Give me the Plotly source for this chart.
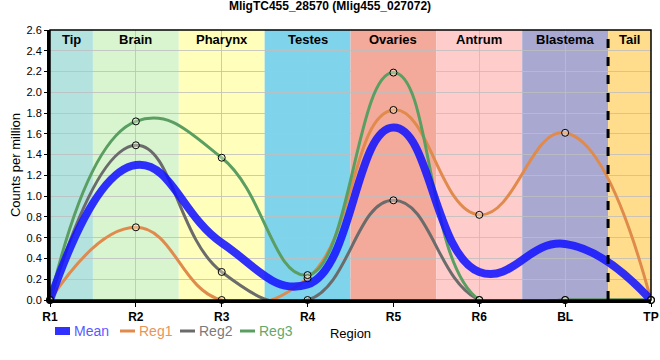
import plotly.graph_objects as go

title = "MligTC455_28570 (Mlig455_027072)"
regions = ["R1", "R2", "R3", "R4", "R5", "R6", "BL", "TP"]
reg1 = [0.0, 0.70, 0.0, 0.21, 1.83, 0.82, 1.61, 0.0]
reg2 = [0.0, 1.49, 0.27, 0.0, 0.96, 0.0, 0.0, 0.0]
reg3 = [0.0, 1.72, 1.37, 0.24, 2.19, 0.0, 0.0, 0.0]
mean = [0.0, 1.30, 0.55, 0.15, 1.66, 0.27, 0.54, 0.0]

band_names = ["Tip", "Brain", "Pharynx", "Testes", "Ovaries", "Antrum", "Blastema", "Tail"]
band_edges = [0, 0.5, 1.5, 2.5, 3.5, 4.5, 5.5, 6.5, 7]
band_colors = ["#b4e2de", "#d8f5d0", "#ffffbb", "#7fd4ec", "#f4aa9b", "#ffcccc", "#a9a8d0", "#ffdd8c"]
tail_split = 6.5

series_names = ["Mean", "Reg1", "Reg2", "Reg3"]
colors = {"Mean": "rgba(20,20,255,0.88)", "Reg1": "#e08a4c", "Reg2": "#6b6b6b", "Reg3": "#5a9e62"}
text_colors = {"Mean": "#5a5aff", "Reg1": "#e8955a", "Reg2": "#7a7a7a", "Reg3": "#64a86a"}
widths = {"Mean": 8, "Reg1": 3, "Reg2": 3, "Reg3": 3}

xs = list(range(len(regions)))

fig = go.Figure()
SM = 1.3
for name, ys in [("Reg1", reg1), ("Reg2", reg2), ("Reg3", reg3), ("Mean", mean)]:
    fig.add_trace(go.Scatter(
        x=xs, y=ys, mode="lines", showlegend=False,
        line=dict(color=colors[name], width=widths[name], shape="spline", smoothing=SM),
    ))
for ys in (reg1, reg2, reg3):
    fig.add_trace(go.Scatter(
        x=xs, y=ys, mode="markers", showlegend=False, cliponaxis=False,
        marker=dict(symbol="circle", size=7, color="rgba(255,255,235,0.35)", line=dict(color="black", width=1)),
    ))

shapes = []
annotations = []
for i, nm in enumerate(band_names):
    x0, x1 = band_edges[i], band_edges[i + 1]
    shapes.append(dict(type="rect", xref="x", yref="paper", x0=x0, x1=x1, y0=0, y1=1,
                       fillcolor=band_colors[i], line=dict(width=0), layer="below"))
    annotations.append(dict(x=(x0 + x1) / 2, y=1, xref="x", yref="paper", text=f"<b>{nm}</b>",
                            showarrow=False, yanchor="top", yshift=0,
                            font=dict(size=13, color="black", family="Liberation Sans")))
shapes.append(dict(type="line", xref="x", yref="paper", x0=tail_split, x1=tail_split, y0=0, y1=1,
                   line=dict(color="black", width=3, dash="dash"), layer="above"))
shapes.append(dict(type="rect", xref="paper", yref="paper", x0=0, x1=1, y0=0, y1=1,
                   line=dict(color="black", width=1.5), layer="above"))

# manual compact legend (pixel offsets converted to paper units)
PW, PH = 601.0, 270.0
leg_y = -31 / PH
leg_starts = [5, 70, 130, 190]
for name, px in zip(series_names, leg_starts):
    shapes.append(dict(type="line", xref="paper", yref="paper", x0=px / PW, x1=(px + 15) / PW,
                       y0=leg_y, y1=leg_y, line=dict(color=colors[name], width=widths[name])))
    annotations.append(dict(x=(px + 18) / PW, y=leg_y, xref="paper", yref="paper", text=name,
                            showarrow=False, xanchor="left", yanchor="middle", borderpad=0,
                            font=dict(size=14, color=text_colors[name], family="Liberation Sans")))

fig.update_layout(
    width=660, height=360,
    margin=dict(l=50, r=9, t=30, b=60, autoexpand=False),
    paper_bgcolor="white", plot_bgcolor="white",
    font=dict(family="Liberation Sans", size=11, color="black"),
    title=dict(text=f"<b>{title}</b>", x=0.5, xanchor="center", y=0.995, yanchor="top",
               font=dict(size=12, family="Liberation Sans")),
    shapes=shapes, annotations=annotations,
    showlegend=False,
    xaxis=dict(range=[0, 7], tickvals=xs, ticktext=[f"<b>{r}</b>" for r in regions], automargin=False,
               showgrid=True, gridcolor="rgba(190,190,190,0.8)", gridwidth=1, layer="above traces",
               zeroline=False, showline=True, linecolor="black", linewidth=3,
               ticks="outside", ticklen=4, tickcolor="black", tickfont=dict(size=12),
               title=dict(text="Region", font=dict(size=13), standoff=6)),
    yaxis=dict(range=[0, 2.6], dtick=0.2, tickformat=".1f", showgrid=True, automargin=False,
               gridcolor="rgba(190,190,190,0.8)", gridwidth=1, layer="above traces",
               zeroline=False, showline=True, linecolor="black", linewidth=3,
               ticks="outside", ticklen=3, tickcolor="black", tickfont=dict(size=11),
               title=dict(text="Counts per million", font=dict(size=13), standoff=3)),
)
fig.write_html("out.html", config={"displayModeBar": False},
               post_script="document.body.style.margin='0';document.body.style.overflow='hidden';")
